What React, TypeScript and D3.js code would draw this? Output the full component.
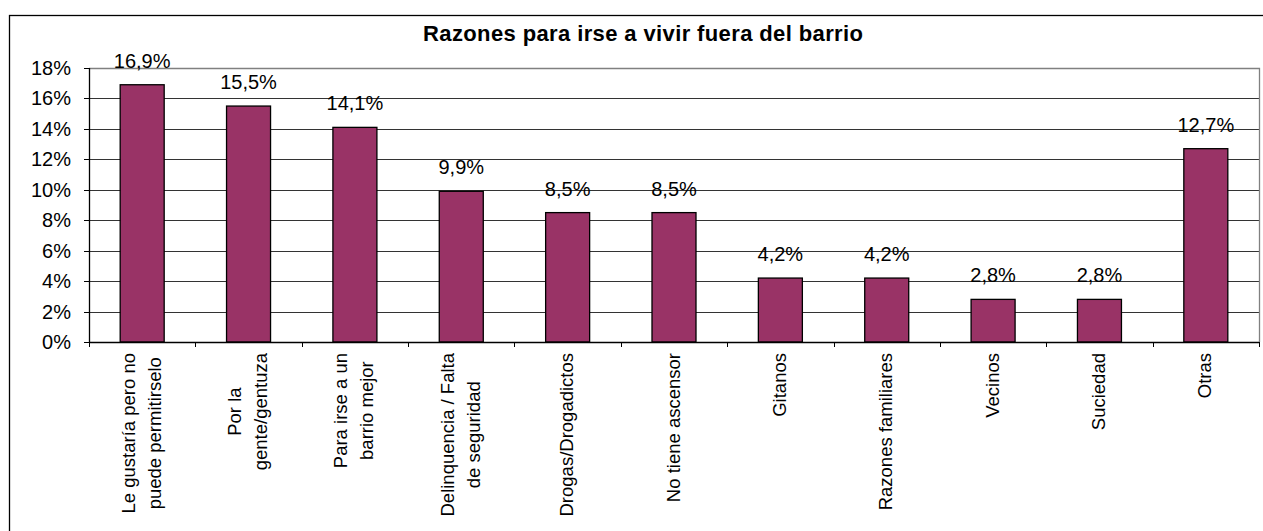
import React, { useRef, useEffect } from "react";
import * as d3 from "d3";

const categories = [
  ["Le gustaría pero no", "puede permitirselo"],
  ["Por la", "gente/gentuza"],
  ["Para irse a un", "barrio mejor"],
  ["Delinquencia / Falta", "de seguridad"],
  ["Drogas/Drogadictos"],
  ["No tiene ascensor"],
  ["Gitanos"],
  ["Razones familiares"],
  ["Vecinos"],
  ["Suciedad"],
  ["Otras"],
];
const values = [16.9, 15.5, 14.1, 9.9, 8.5, 8.5, 4.2, 4.2, 2.8, 2.8, 12.7];
const valueLabels = ["16,9%", "15,5%", "14,1%", "9,9%", "8,5%", "8,5%", "4,2%", "4,2%", "2,8%", "2,8%", "12,7%"];
const yTicks = [0, 2, 4, 6, 8, 10, 12, 14, 16, 18];
const title = "Razones para irse a vivir fuera del barrio";

const FONT = "Arial, 'Liberation Sans', sans-serif";

const App = () => {
  const svgRef = useRef<SVGSVGElement>(null);

  useEffect(() => {
    const svg = d3.select(svgRef.current);
    svg.selectAll("*").remove();

    const left = 89, right = 1259, top = 68, bottom = 342;
    const keys = categories.map((_, i) => String(i));

    const step = (right - left) / keys.length;
    const p = 1 - 44 / step;
    const x = d3.scaleBand().domain(keys).range([left, right]).paddingInner(p).paddingOuter(p / 2);
    const y = d3.scaleLinear().domain([0, 18]).range([bottom, top]);

    // chart frame
    svg.append("rect")
      .attr("x", 9.5).attr("y", 15.5)
      .attr("width", 1270).attr("height", 530)
      .attr("fill", "#fff").attr("stroke", "#000").attr("stroke-width", 1.3);

    svg.append("text")
      .attr("x", 643).attr("y", 41)
      .attr("text-anchor", "middle")
      .attr("font-family", FONT).attr("font-weight", "bold").attr("font-size", 22)
      .attr("textLength", 440).attr("lengthAdjust", "spacing")
      .text(title);

    // gridlines
    svg.append("g").selectAll("line")
      .data(yTicks.slice(1, -1))
      .join("line")
      .attr("x1", left).attr("x2", right)
      .attr("y1", (d) => Math.round(y(d)) + 0.5).attr("y2", (d) => Math.round(y(d)) + 0.5)
      .attr("stroke", "#333").attr("stroke-width", 1);

    // plot border (top / right)
    svg.append("path")
      .attr("d", `M${left},${top + 0.5}H${right + 0.5}V${bottom}`)
      .attr("fill", "none").attr("stroke", "#808080").attr("stroke-width", 1.3);

    // bars
    svg.append("g").selectAll("rect")
      .data(values)
      .join("rect")
      .attr("x", (_, i) => x(keys[i])!)
      .attr("y", (d) => y(d))
      .attr("width", x.bandwidth())
      .attr("height", (d) => bottom - y(d))
      .attr("fill", "#993366")
      .attr("stroke", "#000").attr("stroke-width", 1.3);

    // value labels
    svg.append("g").selectAll("text")
      .data(values)
      .join("text")
      .attr("x", (_, i) => x(keys[i])! + x.bandwidth() / 2)
      .attr("y", (d) => y(d) - 17)
      .attr("text-anchor", "middle")
      .attr("font-family", FONT).attr("font-size", 20)
      .text((_, i) => valueLabels[i]);

    // y axis
    const yAxis = svg.append("g");
    yAxis.append("line")
      .attr("x1", left + 0.5).attr("x2", left + 0.5)
      .attr("y1", top).attr("y2", bottom)
      .attr("stroke", "#000").attr("stroke-width", 1.3);
    yAxis.selectAll("line.tick")
      .data(yTicks)
      .join("line")
      .attr("class", "tick")
      .attr("x1", left - 5).attr("x2", left)
      .attr("y1", (d) => Math.round(y(d)) + 0.5).attr("y2", (d) => Math.round(y(d)) + 0.5)
      .attr("stroke", "#000");
    yAxis.selectAll("text")
      .data(yTicks)
      .join("text")
      .attr("x", 71).attr("y", (d) => y(d) + 7)
      .attr("text-anchor", "end")
      .attr("font-family", FONT).attr("font-size", 20)
      .text((d) => `${d}%`);

    // x axis
    const xAxis = svg.append("g");
    xAxis.append("line")
      .attr("x1", left).attr("x2", right)
      .attr("y1", bottom + 0.5).attr("y2", bottom + 0.5)
      .attr("stroke", "#000").attr("stroke-width", 1.3);
    xAxis.selectAll("line.tick")
      .data(d3.range(keys.length + 1))
      .join("line")
      .attr("class", "tick")
      .attr("x1", (i) => Math.round(left + i * step) + 0.5)
      .attr("x2", (i) => Math.round(left + i * step) + 0.5)
      .attr("y1", bottom).attr("y2", bottom + 5)
      .attr("stroke", "#000");

    const labelGroups = xAxis.selectAll("g.lbl")
      .data(categories)
      .join("g")
      .attr("class", "lbl")
      .attr("transform", (_, i) => `translate(${x(keys[i])! + x.bandwidth() / 2},353) rotate(-90)`);

    labelGroups.each(function (lines) {
      const g = d3.select(this);
      const texts = g.selectAll("text")
        .data(lines)
        .join("text")
        .attr("text-anchor", "middle")
        .attr("font-family", FONT).attr("font-size", 18.5)
        .attr("y", (_, j) => 5.5 + (j - (lines.length - 1) / 2) * 26)
        .text((d) => d);
      let maxLen = 0;
      texts.each(function () {
        maxLen = Math.max(maxLen, (this as SVGTextElement).getComputedTextLength());
      });
      texts.attr("x", -maxLen / 2);
    });
  }, []);

  return (
    <svg
      ref={svgRef}
      width={1263}
      height={531}
      style={{ position: "absolute", left: 0, top: 0, display: "block", background: "#fff" }}
    ></svg>
  );
};

export default App;
